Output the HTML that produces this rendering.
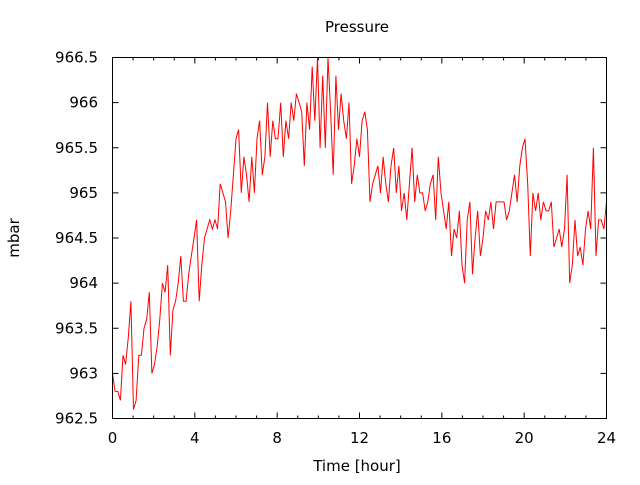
<!DOCTYPE html>
<html><head><meta charset="utf-8"><style>
body{margin:0;background:#fff;}
svg text{font-family:"DejaVu Sans","Liberation Sans",sans-serif;font-size:15px;fill:#000;}
</style></head><body>
<svg id="chart" width="640" height="480" xmlns="http://www.w3.org/2000/svg">
<rect width="640" height="480" fill="#fff"/>
<text x="357" y="32" text-anchor="middle">Pressure</text>
<text transform="translate(19,238) rotate(-90)" text-anchor="middle">mbar</text>
<text x="357" y="471" text-anchor="middle">Time [hour]</text>
<g id="axes"></g>
<polyline id="line" fill="none" stroke="#ff0000" stroke-width="1"/>
<rect x="112.5" y="57.5" width="494" height="361" fill="none" stroke="#000" stroke-width="1"/>
</svg>
<script>
const xTicks=[0,4,8,12,16,20,24];
const yTicks=[962.5,963,963.5,964,964.5,965,965.5,966,966.5];
const yLabels=["962.5","963","963.5","964","964.5","965","965.5","966","966.5"];
const pressure=[963.0,962.8,962.8,962.7,963.2,963.1,963.4,963.8,962.6,962.7,963.2,963.2,963.5,963.6,963.9,963.0,963.1,963.3,963.6,964.0,963.9,964.2,963.2,963.7,963.8,964.0,964.3,963.8,963.8,964.1,964.3,964.5,964.7,963.8,964.2,964.5,964.6,964.7,964.6,964.7,964.6,965.1,965.0,964.9,964.5,964.8,965.2,965.6,965.7,965.0,965.4,965.2,964.9,965.4,965.0,965.6,965.8,965.2,965.4,966.0,965.4,965.8,965.6,965.6,966.0,965.4,965.8,965.6,966.0,965.8,966.1,966.0,965.9,965.3,966.0,965.7,966.4,965.8,966.5,965.5,966.3,965.5,966.5,965.9,965.2,966.3,965.7,966.1,965.8,965.6,966.0,965.1,965.3,965.6,965.4,965.8,965.9,965.7,964.9,965.1,965.2,965.3,965.0,965.4,965.1,964.9,965.3,965.5,965.0,965.3,964.8,965.0,964.7,965.1,965.5,964.9,965.2,965.0,965.0,964.8,964.9,965.1,965.2,964.7,965.4,965.0,964.8,964.6,964.9,964.3,964.6,964.5,964.8,964.2,964.0,964.7,964.9,964.1,964.5,964.8,964.3,964.5,964.8,964.7,964.9,964.6,964.9,964.9,964.9,964.9,964.7,964.8,965.0,965.2,964.9,965.3,965.5,965.6,965.1,964.3,965.0,964.8,965.0,964.7,964.9,964.8,964.8,964.9,964.4,964.5,964.6,964.4,964.6,965.2,964.0,964.2,964.7,964.3,964.4,964.2,964.6,964.8,964.6,965.5,964.3,964.7,964.7,964.6,964.9];
const X0=112.5,X1=606.5,Y0=418.5,Y1=57.5;
const xs=h=>X0+(h-0)/(24-0)*(X1-X0);
const ys=v=>Y0-(v-962.5)/(966.5-962.5)*(Y0-Y1);
const ns="http://www.w3.org/2000/svg";
const g=document.getElementById('axes');
function ln(x1,y1,x2,y2){const l=document.createElementNS(ns,'line');l.setAttribute('x1',x1);l.setAttribute('y1',y1);l.setAttribute('x2',x2);l.setAttribute('y2',y2);l.setAttribute('stroke','#000');


g.appendChild(l);}
yTicks.forEach((v,i)=>{const y=ys(v);ln(X0,y,X0+6,y);ln(X1,y,X1-6,y);
const t=document.createElementNS(ns,'text');t.setAttribute('x',98);t.setAttribute('y',y+5);t.setAttribute('text-anchor','end');t.textContent=yLabels[i];


g.appendChild(t);});
for(let h=0;h<=24;h++){const x=xs(h);const L=(h%4===0)?6:3;ln(x,Y0,x,Y0-L);ln(x,Y1,x,Y1+L);}
xTicks.forEach(h=>{const t=document.createElementNS(ns,'text');t.setAttribute('x',xs(h));t.setAttribute('y',443);t.setAttribute('text-anchor','middle');t.textContent=h;


g.appendChild(t);});
const n=pressure.length;
document.getElementById('line').setAttribute('points',pressure.map((v,i)=>xs(i/(n-1)*24).toFixed(1)+','+ys(v).toFixed(1)).join(' '));
</script>
</body></html>
